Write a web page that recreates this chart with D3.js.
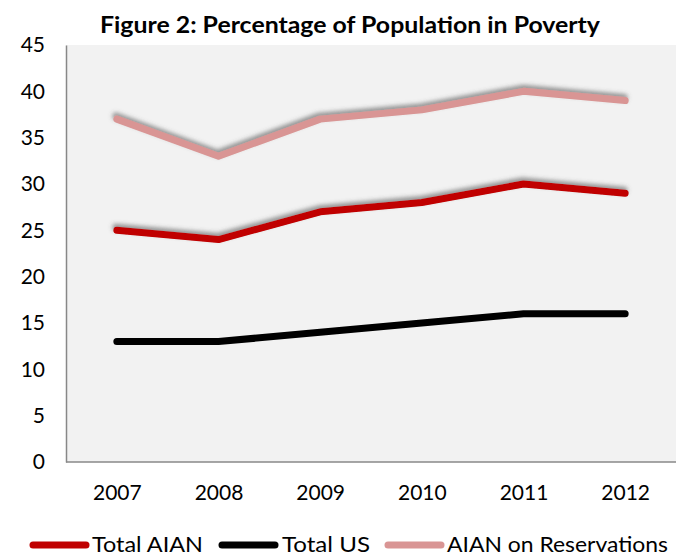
<!DOCTYPE html>
<html><head><meta charset="utf-8">
<script src="https://cdn.jsdelivr.net/npm/d3@7"></script>
<style>body{margin:0;background:#fff}svg{display:block}text{font-family:Lato,"Open Sans",sans-serif}</style>
</head><body>
<svg id="c" width="679" height="556"></svg>
<script>
const years = ["2007","2008","2009","2010","2011","2012"];
const totalAIAN = [25,24,27,28,30,29];
const totalUS = [13,13,14,15,16,16];
const aianRes = [37,33,37,38,40,39];
const yTicks = [0,5,10,15,20,25,30,35,40,45];
const seriesNames = ["Total AIAN","Total US","AIAN on Reservations"];
const colors = ["#c00000","#000000","#d99594"];

const svg = d3.select("#c");
const L=66, R=676, T=45, B=462;
const x = d3.scalePoint().domain(years).range([L,R]).padding(0.5);
const y = d3.scaleLinear().domain([0,45]).range([B,T]);

const defs = svg.append("defs");
const f = defs.append("filter").attr("id","sh").attr("x","-10%").attr("y","-50%").attr("width","120%").attr("height","200%");
f.append("feDropShadow").attr("dx",-1).attr("dy",-3).attr("stdDeviation",2).attr("flood-color","#555").attr("flood-opacity",0.6);

svg.append("rect").attr("x",L).attr("y",T).attr("width",R-L).attr("height",B-T).attr("fill","#f2f2f2");

svg.append("text").attr("x",100).attr("y",33).attr("font-weight","bold").attr("font-size",23)
  .attr("textLength",500).attr("lengthAdjust","spacingAndGlyphs").text("Figure 2: Percentage of Population in Poverty");

// y axis
const ya = svg.append("g").attr("transform",`translate(${L},0)`).call(d3.axisLeft(y).tickValues(yTicks).tickSize(0).tickPadding(21));
ya.select(".domain").attr("stroke","#888").attr("stroke-width",1.5);
ya.selectAll("text").attr("font-size",21).attr("fill","#000").attr("font-family","Lato,sans-serif");

const xa = svg.append("g").attr("transform",`translate(0,${B})`).call(d3.axisBottom(x).tickSize(0).tickPadding(23));
xa.select(".domain").attr("stroke","#888").attr("stroke-width",1.5).attr("d",`M${L},0H${R}`);
xa.selectAll("text").attr("font-size",21).attr("fill","#000").attr("font-family","Lato,sans-serif");

const data = [totalAIAN,totalUS,aianRes];
const line = d3.line().x((d,i)=>x(years[i])).y(d=>y(d));
data.forEach((s,i)=>{
  svg.append("path").datum(s).attr("d",line).attr("fill","none").attr("stroke",colors[i])
    .attr("stroke-width",7).attr("stroke-linecap","round").attr("stroke-linejoin","round")
    .attr("filter", i===1 ? null : "url(#sh)");
});

// legend
const lg = [[33,92,111],[222,282,88],[388,447,221]];
seriesNames.forEach((n,i)=>{
  svg.append("line").attr("x1",lg[i][0]).attr("x2",lg[i][0]+53).attr("y1",545).attr("y2",545)
    .attr("stroke",colors[i]).attr("stroke-width",7).attr("stroke-linecap","round");
  svg.append("text").attr("x",lg[i][1]).attr("y",552).attr("font-size",21)
    .attr("textLength",lg[i][2]).attr("lengthAdjust","spacingAndGlyphs").text(n);
});
</script>
</body></html>
